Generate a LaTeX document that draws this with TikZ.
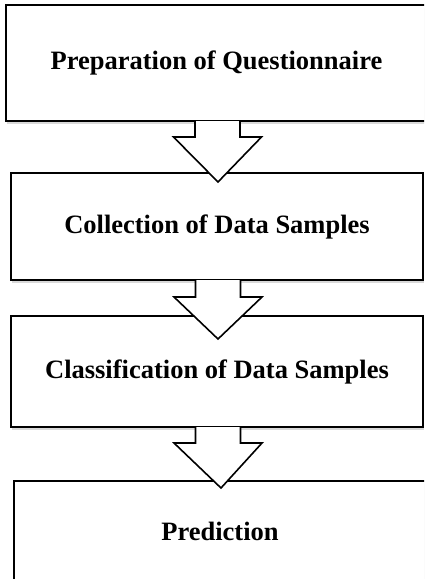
\documentclass[tikz,border=0pt]{standalone}
\usepackage{fontspec}
\setmainfont{Liberation Serif}
\usetikzlibrary{calc,shadows}
\begin{document}
\begin{tikzpicture}[x=1pt,y=-1pt,
  box/.style={draw=black, line width=1.6pt, fill=white, rectangle, anchor=north west,
    inner sep=0pt, outer sep=0pt,
    font=\fontsize{26.5}{30}\selectfont\bfseries,
    drop shadow={shadow xshift=1pt, shadow yshift=-3pt, opacity=0.25, fill=black!60}},
  arrowfill/.style={fill=white, draw=none},
  arrowline/.style={draw=black, line width=1.6pt, line join=miter}
]
\path[use as bounding box, clip] (0,0) rectangle (424,579);

\node[box, minimum width=421pt, minimum height=116pt] (b1) at (6,5) {Preparation of Questionnaire};
\node[box, minimum width=412pt, minimum height=107pt] (b2) at (11,173) {Collection of Data Samples};
\node[box, minimum width=412pt, minimum height=111pt] (b3) at (11,316) {Classification of Data Samples};
\node[box, minimum width=412pt, minimum height=112pt] (b4) at (14,481) {};
\node[font=\fontsize{26.5}{30}\selectfont\bfseries] (t4) at (220,531) {Prediction};

% block arrows between boxes
\foreach \a/\b/\sh/\tip in {b1/b2/16/9, b2/b3/17/23, b3/b4/16/7} {
  \coordinate (s) at ($(\a.south)+(1,0)$);
  \coordinate (t) at ($(\b.north)+(1,\tip)$);
  \fill[arrowfill] ($(s)+(-22.5,0)$) -- ($(s)+(-22.5,\sh)$) -- ($(s)+(-44,\sh)$) -- (t)
     -- ($(s)+(44,\sh)$) -- ($(s)+(22.5,\sh)$) -- ($(s)+(22.5,0)$) -- cycle;
  \draw[arrowline] ($(s)+(-22.5,0)$) -- ($(s)+(-22.5,\sh)$) -- ($(s)+(-44,\sh)$) -- (t)
     -- ($(s)+(44,\sh)$) -- ($(s)+(22.5,\sh)$) -- ($(s)+(22.5,0)$);
}
\end{tikzpicture}
\end{document}
